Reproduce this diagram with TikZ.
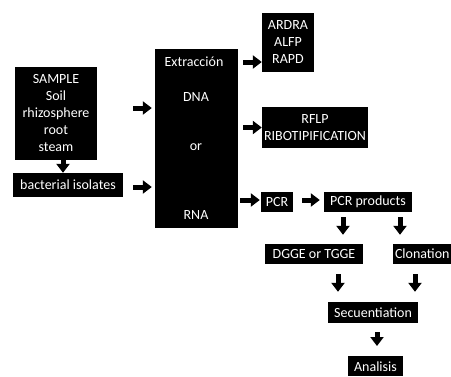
\documentclass[tikz,border=0pt]{standalone}
\usepackage{fontspec}
\setmainfont{Carlito}
\usetikzlibrary{arrows.meta,calc}
\begin{document}
\begin{tikzpicture}[x=1pt,y=-1pt,
  bx/.style={fill=black,text=white,inner sep=0pt,align=center,font=\fontsize{14}{17}\selectfont},
  tx/.style={text=white,inner sep=0pt,font=\fontsize{14}{17}\selectfont},
  blk/.style={line width=5pt,black,-{Triangle[length=9pt,width=13pt]}}]
\useasboundingbox (0,0) rectangle (451,376);
\fill[white] (0,0) rectangle (451,376);
\clip (0,0) rectangle (451,376);
\node[bx,minimum width=82pt,minimum height=93pt] (sample) at (56,113.5) {SAMPLE\\Soil\\rhizosphere\\root\\steam};
\node[bx,minimum width=110pt,minimum height=24pt] (iso) at (68,185) {bacterial isolates};
\node[bx,minimum width=83pt,minimum height=179pt] (big) at (196.5,138.5) {};
\node[tx] (ext) at (194,62) {Extracción};
\node[tx] (dna) at (196,97) {DNA};
\node[tx] (or) at (196,147) {or};
\node[tx] (rna) at (196,215) {RNA};
\node[bx,minimum width=52pt,minimum height=59pt] (ardra) at (288,42.5) {ARDRA\\ALFP\\RAPD};
\node[bx,minimum width=106pt,minimum height=41pt] (rflp) at (315,127.5) {RFLP\\RIBOTIPIFICATION};
\node[bx,minimum width=32pt,minimum height=20pt] (pcr) at (277,202) {PCR};
\node[bx,minimum width=88pt,minimum height=20pt] (prod) at (368,202) {PCR products};
\node[bx,minimum width=98pt,minimum height=20pt] (dgge) at (314,254) {DGGE or TGGE};
\node[bx,minimum width=70pt,minimum height=20pt,text width=66pt,align=left] (clon) at (428,254) {Clonation};
\node[bx,minimum width=55pt,minimum height=20pt,anchor=north] (anal) at (375.5,356) {Analisis};
\node[bx,minimum width=90pt,minimum height=21pt] (sec) at (373,312.5) {Secuentiation};
\draw[blk] ($(sample.south)+(7,0)$) -- ($(iso.north)+(-5,0)$);
\draw[blk] ($(sample.east)+(36,-5.5)$) -- ($(sample.east -| big.west)+(-3,-5.5)$);
\draw[blk] ($(iso.east)+(10,2)$) -- ($(iso.east -| big.west)+(-3,2)$);
\draw[blk] ($(big.east |- ardra.west)+(5,19.5)$) -- ($(ardra.west)+(0,19.5)$);
\draw[blk] ($(big.east |- rflp.west)+(5,0)$) -- (rflp.west);
\draw[blk] ($(big.east |- pcr.west)+(2,-2)$) -- ($(pcr.west)+(-1,-2)$);
\draw[blk] ($(pcr.east)+(9,-2)$) -- ($(prod.west)+(-4,-2)$);
\draw[blk] ($(prod.south)+(-25,5)$) -- ($(prod.south |- dgge.north)+(-25,-9)$);
\draw[blk] ($(prod.south)+(32,5)$) -- ($(prod.south |- clon.north)+(32,-9)$);
\draw[blk] ($(dgge.south)+(24,10)$) -- ($(dgge.south |- sec.north)+(24,-10)$);
\draw[blk] ($(clon.south)+(-13,10)$) -- ($(clon.south |- sec.north)+(-13,-10)$);
\draw[blk] ($(sec.south)+(4,9)$) -- ($(sec.south |- anal.north)+(4,-10)$);
\end{tikzpicture}
\end{document}
